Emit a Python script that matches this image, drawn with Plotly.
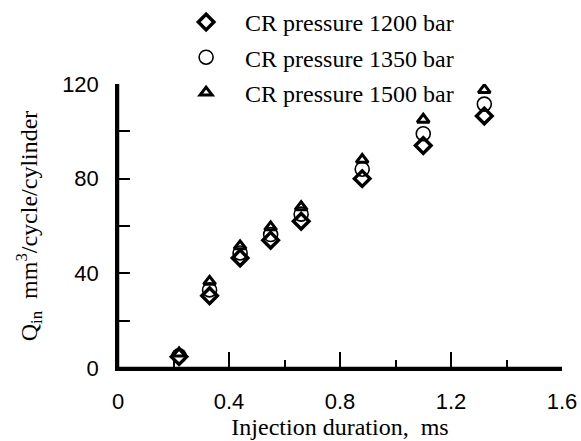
import plotly.graph_objects as go

# Injection duration (ms) and injected quantity (mm3/cycle/cylinder)
duration = [0.22, 0.33, 0.44, 0.55, 0.66, 0.88, 1.10, 1.32]
q_1200 = [4.8, 30.5, 46.5, 54.0, 62.0, 80.0, 94.0, 106.5]
q_1350 = [5.2, 33.0, 48.6, 56.4, 65.0, 84.0, 99.0, 111.5]
q_1500 = [6.2, 36.5, 51.5, 59.5, 68.0, 88.0, 105.0, 117.5]
series_names = ["CR pressure 1200 bar", "CR pressure 1350 bar", "CR pressure 1500 bar"]

serif = "Liberation Serif"
sans = "Liberation Sans"

fig = go.Figure()
styles = [
    dict(symbol="diamond-open", size=12, line=dict(color="black", width=3.4)),
    dict(symbol="circle-open", size=14, line=dict(color="black", width=1.6)),
    dict(symbol="triangle-up-open", size=10.5, line=dict(color="black", width=3)),
]
for i, (name, ys) in enumerate(zip(series_names, [q_1200, q_1350, q_1500])):
    fig.add_trace(go.Scatter(
        x=duration, y=ys, mode="markers", name=name,
        legendgroup=f"g{i}",
        marker=dict(color="black", **styles[i]),
    ))

# left and bottom frame lines
frame = dict(color="black", width=2.5)
fig.add_shape(type="line", xref="paper", yref="paper", x0=0, x1=0, y0=0, y1=1, line=frame, layer="above")
fig.add_shape(type="line", xref="paper", yref="paper", x0=0, x1=1, y0=0, y1=0, line=frame, layer="above")

fig.update_layout(
    width=581, height=441,
    margin=dict(l=118, r=19, t=84, b=73, autoexpand=False),
    paper_bgcolor="white", plot_bgcolor="white",
    showlegend=True,
    legend=dict(
        x=0.1106, y=1.296, xanchor="left", yanchor="top",
        bgcolor="rgba(0,0,0,0)",
        font=dict(family=serif, size=24, color="black"),
        tracegroupgap=1, traceorder="grouped",
        itemwidth=68,
    ),
    xaxis=dict(
        range=[0, 1.6], dtick=0.4, tick0=0,
        showgrid=False, zeroline=False,
        showline=True, linecolor="black", linewidth=2.5,
        ticks="inside", ticklen=16, tickwidth=2, tickcolor="black",
        minor=dict(ticks="inside", dtick=0.2, ticklen=8, tickwidth=2, tickcolor="black", showgrid=False),
        tickfont=dict(family=sans, size=22, color="black"),
        ticklabelstandoff=12,
        automargin=False,
        title=dict(text="Injection duration,  ms", font=dict(family=serif, size=24, color="black"), standoff=0),
    ),
    yaxis=dict(
        range=[0, 120], dtick=40, tick0=0,
        showgrid=False, zeroline=False,
        showline=True, linecolor="black", linewidth=2.5,
        ticks="inside", ticklen=12, tickwidth=2, tickcolor="black",
        minor=dict(ticks="inside", dtick=20, ticklen=12, tickwidth=2, tickcolor="black", showgrid=False),
        tickfont=dict(family=sans, size=22, color="black"),
        ticklabelstandoff=12,
        automargin=False,
        title=dict(text="Q<sub>in</sub>  mm<sup>3</sup>/cycle/cylinder", font=dict(family=serif, size=24, color="black"), standoff=18),
    ),
)

fig.write_html("out.html")
